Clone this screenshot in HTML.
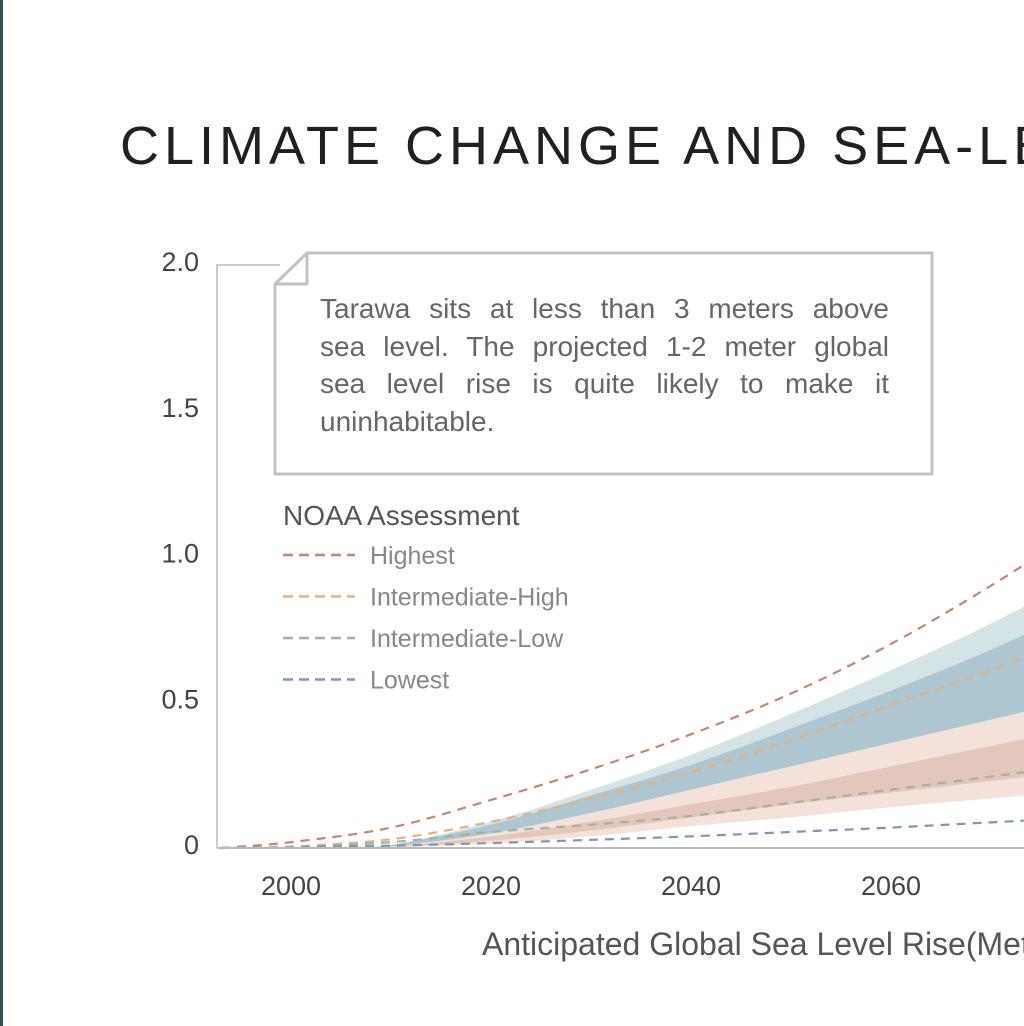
<!DOCTYPE html>
<html><head><meta charset="utf-8"><style>
body{margin:0;width:1024px;height:1026px;overflow:hidden;background:#fff;font-family:"Liberation Sans",sans-serif;position:relative}
#bar{position:absolute;left:0;top:0;width:3px;height:1026px;background:#2f5457}
#title{position:absolute;left:120px;top:115px;width:904px;overflow:hidden;font-size:54px;letter-spacing:5px;color:#231f20;white-space:nowrap}
#note{position:absolute;left:320px;top:290px;width:569px;font-size:28px;line-height:37.5px;color:#666}
#note div{text-align:justify;text-align-last:justify;white-space:nowrap;height:37.5px}
#note div.last{text-align-last:left}
#xtitle{position:absolute;left:482px;top:926px;width:542px;overflow:hidden;white-space:nowrap;font-size:32px;color:#555}
</style></head><body>
<div id="bar"></div>
<div id="title">CLIMATE CHANGE AND SEA-LEVEL RISE</div>
<svg id="chart" width="1024" height="1026" style="position:absolute;left:0;top:0"></svg>
<div id="note"><div>Tarawa sits at less than 3 meters above</div><div>sea level. The projected 1-2 meter global</div><div>sea level rise is quite likely to make it</div><div class="last">uninhabitable.</div></div>
<div id="xtitle">Anticipated Global Sea Level Rise(Meters)</div>
<script>
const years=[1993,2000,2010,2020,2030,2040,2050,2060,2070,2080];
const highest=[0,0.02,0.07,0.165,0.27,0.39,0.53,0.70,0.90,1.12];
const intHigh=[0,0.005,0.03,0.09,0.17,0.26,0.37,0.49,0.61,0.74];
const intLow=[0,0.003,0.02,0.055,0.08,0.11,0.155,0.2,0.245,0.29];
const lowest=[0,0.002,0.008,0.017,0.028,0.04,0.055,0.07,0.088,0.105];
const bandYears=[2005,2010,2020,2030,2040,2050,2060,2070,2080];
const blueOuterTop=[0,0.01,0.09,0.2,0.32,0.46,0.61,0.77,0.95];
const blueInnerTop=[0,0.01,0.08,0.18,0.285,0.41,0.54,0.68,0.84];
const pinkTop=[0,0.005,0.05,0.12,0.2,0.28,0.36,0.44,0.52];
const pinkInnerTop=[0,0.004,0.04,0.09,0.15,0.21,0.28,0.35,0.42];
const pinkInnerBottom=[0,0.003,0.025,0.06,0.105,0.15,0.19,0.23,0.27];
const pinkOuterBottom=[0,0.002,0.015,0.04,0.075,0.105,0.14,0.17,0.2];
const xTicks=[2000,2020,2040,2060];
const yTicks=[0,0.5,1.0,1.5,2.0];
const yTickLabels=["0","0.5","1.0","1.5","2.0"];
const legendNames=["Highest","Intermediate-High","Intermediate-Low","Lowest"];
const legendColors=["#c08a74","#e5b07e","#a7b29a","#7d98b3"];

const NS="http://www.w3.org/2000/svg";
const svg=document.getElementById('chart');
const X=y=>291+(y-2000)*10;
const Y=v=>848-v*291.5;
function mk(tag,attrs,parent){const e=document.createElementNS(NS,tag);for(const k in attrs)e.setAttribute(k,attrs[k]);(parent||svg).appendChild(e);return e;}
function smooth(pts,move){
  let d=(move?'M':'L')+pts[0][0]+','+pts[0][1];
  for(let i=0;i<pts.length-1;i++){
    const p0=pts[Math.max(0,i-1)],p1=pts[i],p2=pts[i+1],p3=pts[Math.min(pts.length-1,i+2)];
    const c1=[p1[0]+(p2[0]-p0[0])/6,p1[1]+(p2[1]-p0[1])/6];
    const c2=[p2[0]-(p3[0]-p1[0])/6,p2[1]-(p3[1]-p1[1])/6];
    d+=' C'+c1[0]+','+c1[1]+' '+c2[0]+','+c2[1]+' '+p2[0]+','+p2[1];
  }
  return d;
}
let f=mk('path',{d:'M217,848 L217,265 L280,265',fill:'none',stroke:'#bbb','stroke-width':1.5});


function band(top,bot,color,name){
  const tp=bandYears.map((y,i)=>[X(y),Y(top[i])]);
  const bp=bandYears.map((y,i)=>[X(y),Y(bot[i])]).reverse();
  const p=mk('path',{d:smooth(tp,true)+' '+smooth(bp,false)+'Z',fill:color});
  
  
}
band(blueOuterTop,pinkTop,'#d3e3e6','band-blue-outer');
band(blueInnerTop,pinkTop,'#aec6d0','band-blue-inner');
band(pinkTop,pinkOuterBottom,'#f3e1da','band-pink-outer');
band(pinkInnerTop,pinkInnerBottom,'#e3c7bc','band-pink-inner');
function line(vals,color,name){
  const p=mk('path',{d:smooth(years.map((y,i)=>[X(y),Y(vals[i])]),true),fill:'none',stroke:color,'stroke-width':2.2,'stroke-dasharray':'9,7'});
  
  
}
line(highest,legendColors[0],'line-highest');
line(intHigh,legendColors[1],'line-intermediate-high');
line(intLow,legendColors[2],'line-intermediate-low');
line(lowest,legendColors[3],'line-lowest');
let base=mk('line',{x1:217,y1:848,x2:1024,y2:848,stroke:'#bbb','stroke-width':2});


yTicks.forEach((v,i)=>{const t=mk('text',{x:199,y:Y(v)+6,'text-anchor':'end','font-size':27,fill:'#444'});t.textContent=yTickLabels[i];

});
xTicks.forEach(v=>{const t=mk('text',{x:X(v),y:895,'text-anchor':'middle','font-size':27,fill:'#444'});t.textContent=v;

});
let cb=mk('path',{d:'M307,253 L932,253 L932,474 L275,474 L275,284 Z M275,284 L307,284 L307,253',fill:'#fff',stroke:'#c2c2c2','stroke-width':3,'stroke-linejoin':'round'});


let lt=mk('text',{x:283,y:525,'font-size':28,fill:'#555'});lt.textContent='NOAA Assessment';


legendNames.forEach((n,i)=>{const yy=555+i*41.5;
  const g=mk('g',{});
  
  
  mk('line',{x1:283,y1:yy,x2:355,y2:yy,stroke:legendColors[i],'stroke-width':2.5,'stroke-dasharray':'10,6'},g);
  const t=mk('text',{x:370,y:yy+9,'font-size':25,fill:'#888'},g);t.textContent=n;});
</script>
</body></html>
